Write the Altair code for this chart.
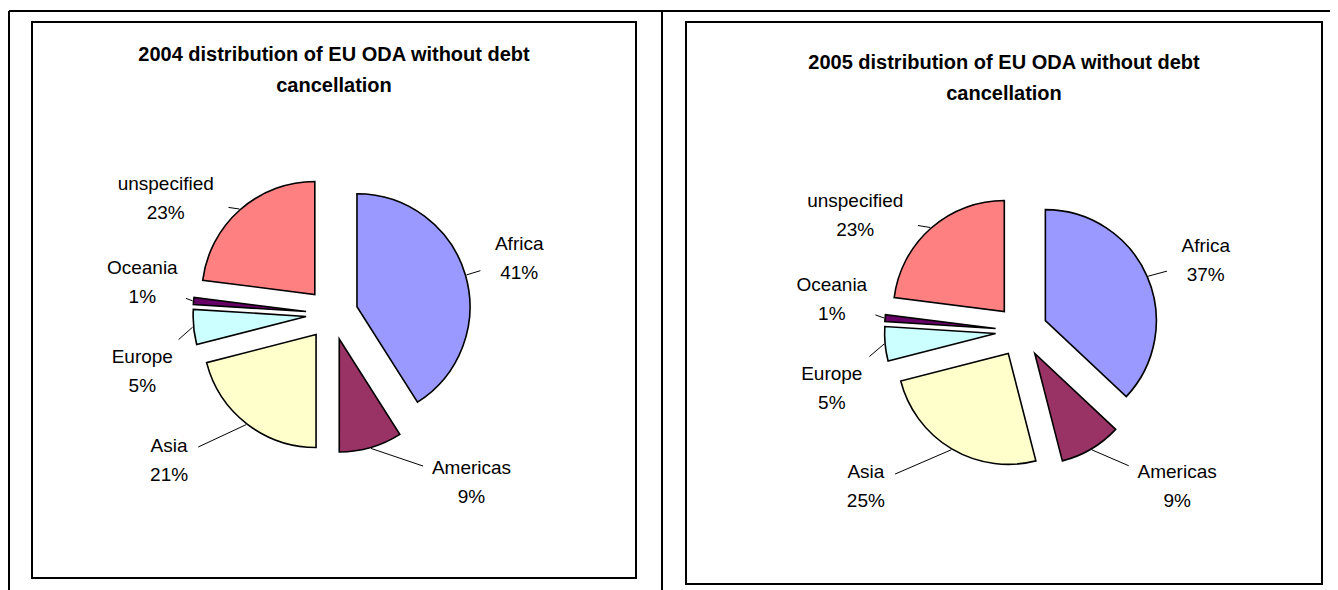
import altair as alt
import pandas as pd

# ---------------- data ----------------
REGIONS = ["Africa", "Americas", "Asia", "Europe", "Oceania", "unspecified"]
SHARE_2004 = [41, 9, 21, 5, 1, 23]
SHARE_2005 = [37, 9, 25, 5, 1, 23]
TITLE_2004 = ["2004 distribution of EU ODA without debt", "cancellation"]
TITLE_2005 = ["2005 distribution of EU ODA without debt", "cancellation"]
COLORS = ["#9999FF", "#993366", "#FFFFCC", "#CCFFFF", "#660066", "#FF8080"]

# ---------------- layout / style ----------------
W, H = 1322, 582
FONT = "Liberation Sans"
EXPLODE = 26
LABEL_SIZE = 19
LINE_H = 29
TITLE_SIZE = 20


def pie_layers(shares, cx, cy, r):
    df = pd.DataFrame({"region": REGIONS, "share": shares})
    df["end"] = df["share"].cumsum()
    df["start"] = df["end"] - df["share"]
    df["label"] = df["region"] + "\n" + df["share"].astype(str) + "%"

    base = alt.Chart(df).transform_calculate(
        a="(datum.start + datum.end) * PI / 100",
    ).transform_calculate(
        ax=f"{cx} + {EXPLODE} * sin(datum.a)",
        ay=f"{cy} - {EXPLODE} * cos(datum.a)",
        p1x=f"{cx} + {EXPLODE + r + 1} * sin(datum.a)",
        p1y=f"{cy} - {EXPLODE + r + 1} * cos(datum.a)",
        sx="sin(datum.a) >= 0 ? 1 : -1",
        sy="cos(datum.a) >= 0 ? 1 : -1",
    ).transform_calculate(
        # first text line position of the two-line label
        lx=f"{cx} + 70 * sin(datum.a) + 120 * datum.sx",
        ly=f"{cy} - 128 * cos(datum.a) - 32.5 * datum.sy - 1.5",
        hw="length(datum.region) * 4.8 + 10",
        hh="32",
    ).transform_calculate(
        lcy=f"datum.ly + {LINE_H / 2}",
    ).transform_calculate(
        ddx="datum.lx - datum.p1x",
        ddy="datum.lcy - datum.p1y",
    ).transform_calculate(
        t="min(1, min(datum.hw / (abs(datum.ddx) + 0.001), datum.hh / (abs(datum.ddy) + 0.001)))",
    ).transform_calculate(
        p2x="datum.lx - datum.ddx * datum.t",
        p2y="datum.lcy - datum.ddy * datum.t",
    )

    arcs = base.mark_arc(outerRadius=r, stroke="black", strokeWidth=1.6,
                         strokeJoin="miter").encode(
        x=alt.X("ax:Q", scale=None),
        y=alt.Y("ay:Q", scale=None),
        theta=alt.Theta("start:Q", stack=None, scale=alt.Scale(domain=[0, 100])),
        theta2="end:Q",
        color=alt.Color("region:N", scale=alt.Scale(domain=REGIONS, range=COLORS), legend=None),
    )
    leaders = base.mark_rule(color="black", strokeWidth=1).encode(
        x=alt.X("p1x:Q", scale=None),
        y=alt.Y("p1y:Q", scale=None),
        x2="p2x:Q",
        y2="p2y:Q",
    )
    labels = base.mark_text(font=FONT, fontSize=LABEL_SIZE, lineBreak="\n", lineHeight=LINE_H,
                            align="center", baseline="middle", color="black").encode(
        x=alt.X("lx:Q", scale=None),
        y=alt.Y("ly:Q", scale=None),
        text="label:N",
    )
    return [arcs, leaders, labels]


one = pd.DataFrame({"k": [0]})

frame_top = alt.Chart(one).mark_rule(color="black", strokeWidth=2).encode(
    x=alt.value(1), x2=alt.value(W), y=alt.value(3))
frame_left = alt.Chart(one).mark_rule(color="black", strokeWidth=2).encode(
    x=alt.value(1), y=alt.value(3), y2=alt.value(H))
frame_mid = alt.Chart(one).mark_rule(color="black", strokeWidth=2).encode(
    x=alt.value(654), y=alt.value(3), y2=alt.value(H))

box_left = alt.Chart(one).mark_rect(fill="white", stroke="black", strokeWidth=2).encode(
    x=alt.value(24), x2=alt.value(628), y=alt.value(14), y2=alt.value(570))
box_right = alt.Chart(one).mark_rect(fill="white", stroke="black", strokeWidth=2).encode(
    x=alt.value(678), x2=alt.value(1314), y=alt.value(14), y2=alt.value(576))

title_left = alt.Chart(pd.DataFrame({"t": ["\n".join(TITLE_2004)]})).mark_text(
    font=FONT, fontSize=TITLE_SIZE, fontWeight="bold", lineBreak="\n", lineHeight=31,
    align="center", baseline="middle", color="black").encode(
    x=alt.value(326), y=alt.value(47), text="t:N")
title_right = alt.Chart(pd.DataFrame({"t": ["\n".join(TITLE_2005)]})).mark_text(
    font=FONT, fontSize=TITLE_SIZE, fontWeight="bold", lineBreak="\n", lineHeight=31,
    align="center", baseline="middle", color="black").encode(
    x=alt.value(996), y=alt.value(55), text="t:N")

layers = [frame_top, frame_left, frame_mid, box_left, box_right, title_left, title_right]
layers += pie_layers(SHARE_2004, 324, 306, 113)
layers += pie_layers(SHARE_2005, 1013.5, 323, 111)

chart = alt.layer(*layers).properties(
    width=W, height=H, padding=0,
    autosize=alt.AutoSizeParams(type="none"),
    background="white",
).configure_view(stroke=None)

chart.save("out.html", embed_options={"renderer": "svg", "actions": False})
